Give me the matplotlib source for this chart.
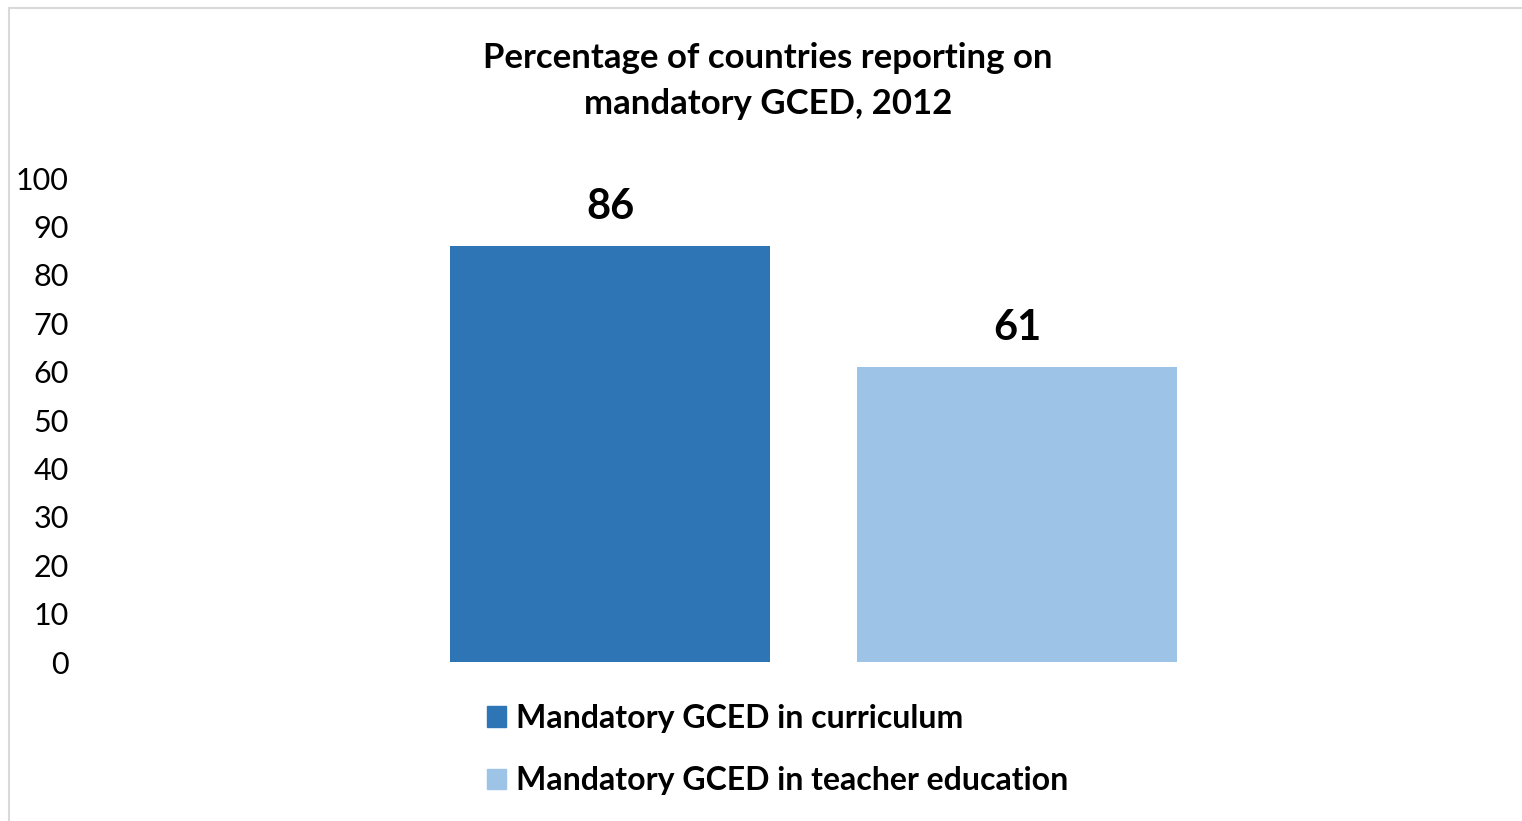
import matplotlib.pyplot as plt
from matplotlib.patches import Rectangle, Patch

labels = ["Mandatory GCED in curriculum", "Mandatory GCED in teacher education"]
values = [86, 61]
colors = ["#2E75B6", "#9DC3E6"]
title = "Percentage of countries reporting on\nmandatory GCED, 2012"

plt.rcParams['font.family'] = ['Lato', 'DejaVu Sans']

W, H = 1522, 821
fig = plt.figure(figsize=(W / 100, H / 100), dpi=100)

# light frame around chart area
fig.patches.append(Rectangle((9 / W, -0.1), 2, 1.1 - 8 / H, transform=fig.transFigure,
                             fill=False, edgecolor="#D9D9D9", linewidth=1.5))

x0, x1 = 80, 1500
ax = fig.add_axes([x0 / W, 159 / H, (x1 - x0) / W, 484 / H])
pos = [0, 1]
ax.bar(pos, values, width=0.784, color=colors)
ax.set_xlim((x0 - 610) / 407, (x1 - 610) / 407)
ax.set_ylim(0, 100)
ax.set_yticks(range(0, 101, 10))
ax.tick_params(axis='y', length=0, labelsize=22, pad=8)
ax.set_xticks([])
for s in ax.spines.values():
    s.set_visible(False)

for p, v in zip(pos, values):
    ax.text(p, v + 4, str(v), ha='center', va='bottom', fontsize=30, fontweight='bold')

fig.text(768 / W, 1 - 81 / H, title, ha='center', va='center', fontsize=25,
         fontweight='bold', linespacing=1.55)

handles = [Patch(color=c) for c in colors]
fig.legend(handles, labels, loc='upper left', bbox_to_anchor=(458 / W, 1 - 675 / H),
           frameon=False, handlelength=0.6, handleheight=0.6,
           handletextpad=0.3, labelspacing=1.05, prop={'weight': 'bold', 'size': 23})

fig.savefig("out.png", dpi=100)
